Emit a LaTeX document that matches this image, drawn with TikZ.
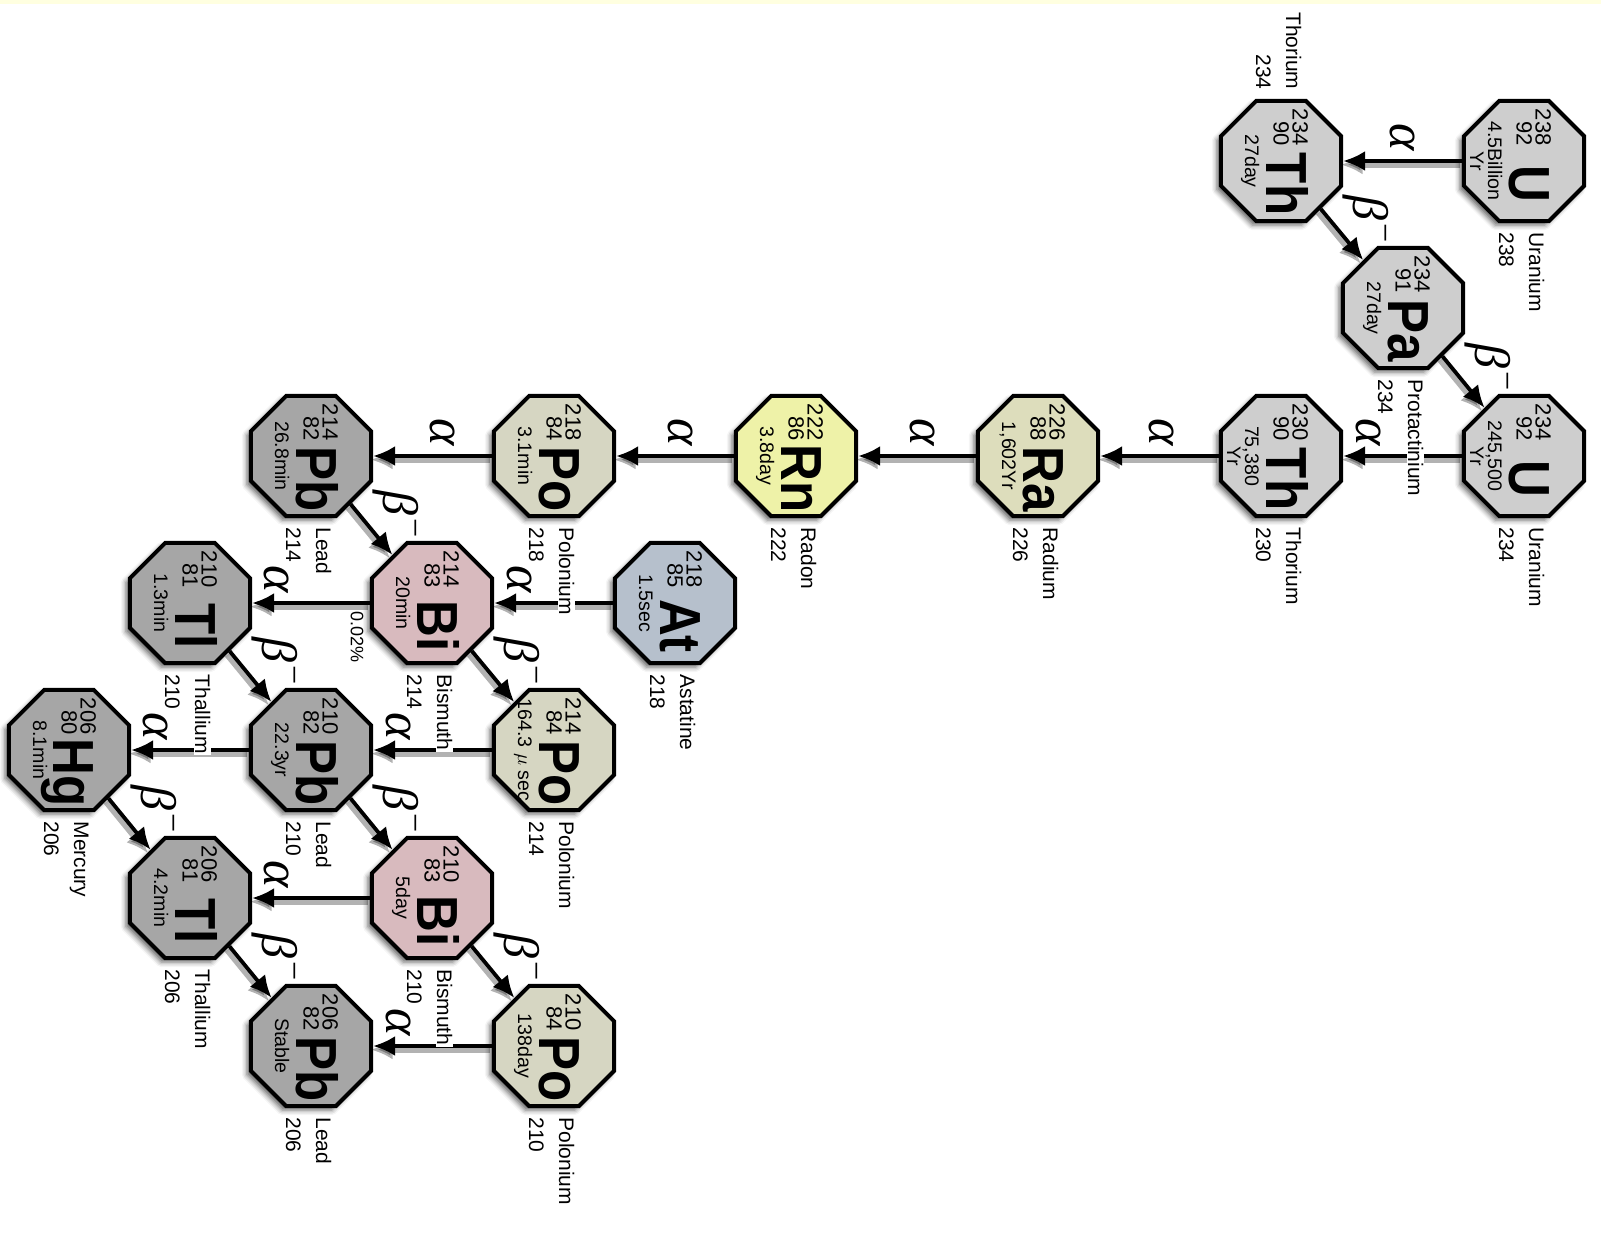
\documentclass[tikz,border=0pt]{standalone}
\usepackage{fontspec}
\usepackage{graphicx}
\setmainfont{Liberation Sans}
\newfontfamily\greekfont{Liberation Serif}
\usetikzlibrary{shapes.geometric,arrows.meta,shadows.blur}

\definecolor{grayU}{RGB}{206,206,206}
\definecolor{grayPb}{RGB}{166,166,166}
\definecolor{colRa}{RGB}{221,221,188}
\definecolor{colRn}{RGB}{238,242,168}
\definecolor{colPo}{RGB}{214,214,194}
\definecolor{colAt}{RGB}{182,192,204}
\definecolor{colBi}{RGB}{216,186,190}
\definecolor{paleyel}{RGB}{255,255,224}

\pgfdeclarelayer{front}
\pgfsetlayers{main,front}

\tikzset{
  octa/.style={regular polygon, regular polygon sides=8, minimum size=65pt,
    inner sep=0pt, draw=black, line width=2pt,
    blur shadow={shadow xshift=-2pt, shadow yshift=-2pt, shadow blur radius=2.5pt, shadow opacity=60}},
  massno/.style={rotate=-90, inner sep=0pt, anchor=base east, font=\fontsize{11}{12}\selectfont},
  halflife/.style={rotate=-90, inner sep=0pt, anchor=base, font=\fontsize{9.8}{11}\selectfont},
  symb/.style={rotate=-90, inner sep=0pt, anchor=base, font=\fontsize{29}{29}\selectfont\bfseries},
  elabel/.style={rotate=-90, inner sep=0.6pt, fill=white, font=\fontsize{10.5}{12}\selectfont},
  decay/.style={line width=1.9pt, -{Latex[length=11pt,width=10pt]},
    preaction={draw=black, opacity=0.3, line width=3pt, transform canvas={xshift=-1.2pt,yshift=-1.8pt}}},
  alph/.style={yshift=12pt, rotate=-90, inner sep=0pt, font=\fontsize{26}{26}\greekfont\itshape},
  bet/.style={xshift=12pt, yshift=7.5pt, rotate=-90, inner sep=0pt, font=\fontsize{25}{25}\greekfont\itshape},
  pct/.style={yshift=-17pt, rotate=-90, inner sep=0pt, font=\fontsize{9}{10}\selectfont}
}

% octagon with its numbers: name, position, colour, A, Z, half-life (two lines), symbol
\newcommand{\nuclide}[8]{%
  \node[octa, fill=#3] (#1) at (#2) {};
  \path (#1.center) ++(11.5,-15) node[massno] (#1-a) {#4};
  \path (#1.center) ++(-7.5,-15) node[massno] (#1-z) {#5};
  \path (#1.center) ++(-36,0) node[halflife] (#1-t) {#6};
  \path (#1.center) ++(-54,0) node[halflife] (#1-u) {#7};
  \path (#1.center) ++(-15,23) node[symb] (#1-s) {\scalebox{0.88}[1]{#8}};
}
% element name and mass number beside the octagon
\newcommand{\elname}[3]{%
  \begin{pgfonlayer}{front}
    \path (#1.center) ++(5,70) node[elabel, anchor=base west] (#1-n) {#3};
    \path (#1.center) ++(-25,70) node[elabel, anchor=base west] (#1-m) {#2};
  \end{pgfonlayer}
}
\newcommand{\alphasym}{α}
\newcommand{\betasym}{β\kern1.5pt\raisebox{0.42em}{\upshape\fontsize{17}{17}\selectfont −}}

\begin{document}
\begin{tikzpicture}[x=0.5pt,y=-0.5pt]
  %ramme
  \useasboundingbox (0,0) rectangle (1601,1239);
  \fill[paleyel] (0,0) rectangle (1601,4);

  %oeverste del
  \nuclide{U238}{1524,161}{grayU}{238}{92}{4.5Billion}{Yr}{U}
  \nuclide{Th234}{1281,161}{grayU}{234}{90}{27day}{}{Th}
  \nuclide{Pa234}{1403,308}{grayU}{234}{91}{27day}{}{Pa}

  %hovedraekke
  \nuclide{U234}{1524,456}{grayU}{234}{92}{245,500}{Yr}{U}
  \nuclide{Th230}{1281,456}{grayU}{230}{90}{75,380}{Yr}{Th}
  \nuclide{Ra226}{1038,456}{colRa}{226}{88}{1,602Yr}{}{Ra}
  \nuclide{Rn222}{796,456}{colRn}{222}{86}{3.8day}{}{Rn}
  \nuclide{Po218}{554,456}{colPo}{218}{84}{3.1min}{}{Po}
  \nuclide{Pb214}{311,456}{grayPb}{214}{82}{26.8min}{}{Pb}

  %nederste del
  \nuclide{At218}{675,603}{colAt}{218}{85}{1.5sec}{}{At}
  \nuclide{Bi214}{432,603}{colBi}{214}{83}{20min}{}{Bi}
  \nuclide{Tl210}{190,603}{grayPb}{210}{81}{1.3min}{}{Tl}
  \nuclide{Po214}{554,750}{colPo}{214}{84}{164.3 $\mu$ sec}{}{Po}
  \nuclide{Pb210}{311,750}{grayPb}{210}{82}{22.3yr}{}{Pb}
  \nuclide{Hg206}{69,750}{grayPb}{206}{80}{8.1min}{}{Hg}
  \nuclide{Bi210}{432,898}{colBi}{210}{83}{5day}{}{Bi}
  \nuclide{Tl206}{190,898}{grayPb}{206}{81}{4.2min}{}{Tl}
  \nuclide{Po210}{554,1046}{colPo}{210}{84}{138day}{}{Po}
  \nuclide{Pb206}{311,1046}{grayPb}{206}{82}{Stable}{}{Pb}

  %navne
  \elname{U238}{238}{Uranium}
  \begin{pgfonlayer}{front}
    \path (Th234.center) ++(5,-70) node[elabel, anchor=base east] (Th234-n) {Thorium};
    \path (Th234.center) ++(-25,-70) node[elabel, anchor=base east] (Th234-m) {234};
  \end{pgfonlayer}
  \elname{Pa234}{234}{Protactinium}
  \elname{U234}{234}{Uranium}
  \elname{Th230}{230}{Thorium}
  \elname{Ra226}{226}{Radium}
  \elname{Rn222}{222}{Radon}
  \elname{Po218}{218}{Polonium}
  \elname{Pb214}{214}{Lead}
  \elname{At218}{218}{Astatine}
  \elname{Bi214}{214}{Bismuth}
  \elname{Tl210}{210}{Thallium}
  \elname{Po214}{214}{Polonium}
  \elname{Pb210}{210}{Lead}
  \elname{Hg206}{206}{Mercury}
  \elname{Bi210}{210}{Bismuth}
  \elname{Tl206}{206}{Thallium}
  \elname{Po210}{210}{Polonium}
  \elname{Pb206}{206}{Lead}

  %alpha-henfald
  \draw[decay] (U238) -- node[alph] (al1) {\alphasym} (Th234);
  \draw[decay] (U234) -- node[alph, pos=0.79] (al2) {\alphasym} (Th230);
  \draw[decay] (Th230) -- node[alph, pos=0.48] (al3) {\alphasym} (Ra226);
  \draw[decay] (Ra226) -- node[alph, pos=0.45] (al4) {\alphasym} (Rn222);
  \draw[decay] (Rn222) -- node[alph, pos=0.45] (al5) {\alphasym} (Po218);
  \draw[decay] (Po218) -- node[alph, pos=0.42] (al6) {\alphasym} (Pb214);
  \draw[decay] (At218) -- node[alph, pos=0.79] (al7) {\alphasym} (Bi214);
  \draw[decay] (Bi214) -- node[alph, pos=0.79] (al8) {\alphasym}
    node[pct, pos=0.11] (pc1) {0.02\%} (Tl210);
  \draw[decay] (Po214) -- node[alph, pos=0.79] (al9) {\alphasym} (Pb210);
  \draw[decay] (Pb210) -- node[alph, pos=0.79] (al10) {\alphasym} (Hg206);
  \draw[decay] (Bi210) -- node[alph, pos=0.79] (al11) {\alphasym} (Tl206);
  \draw[decay] (Po210) -- node[alph, pos=0.79] (al12) {\alphasym} (Pb206);

  %beta-henfald
  \draw[decay] (Th234) -- node[bet] (be1) {\betasym} (Pa234);
  \draw[decay] (Pa234) -- node[bet] (be2) {\betasym} (U234);
  \draw[decay] (Pb214) -- node[bet] (be3) {\betasym} (Bi214);
  \draw[decay] (Bi214) -- node[bet] (be4) {\betasym} (Po214);
  \draw[decay] (Tl210) -- node[bet] (be5) {\betasym} (Pb210);
  \draw[decay] (Pb210) -- node[bet] (be6) {\betasym} (Bi210);
  \draw[decay] (Hg206) -- node[bet] (be7) {\betasym} (Tl206);
  \draw[decay] (Bi210) -- node[bet] (be8) {\betasym} (Po210);
  \draw[decay] (Tl206) -- node[bet] (be9) {\betasym} (Pb206);
\end{tikzpicture}
\end{document}
